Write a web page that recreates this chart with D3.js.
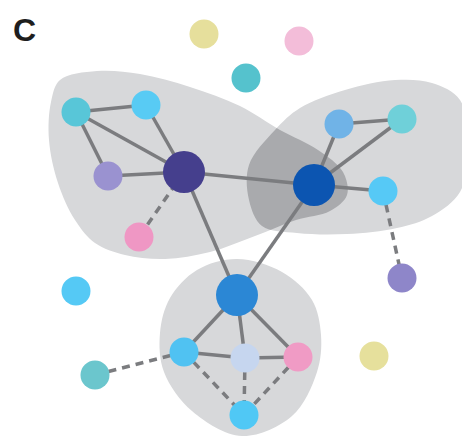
<!DOCTYPE html>
<html>
<head>
<meta charset="utf-8">
<script src="https://cdn.jsdelivr.net/npm/d3@7"></script>
<style>
  html, body { margin: 0; padding: 0; background: #ffffff; }
  svg { display: block; }
</style>
</head>
<body>
<div id="chart"></div>
<script>
// Network nodes: id, layout coordinates, and role (hub or leaf)
const nodeIds   = ["y1", "p1", "t1", "a1", "a2", "a3", "h1", "a4", "b1", "b2", "h2", "b3", "b4", "y2", "c1", "c2", "h3", "d1", "d2", "d3", "d4"];
const nodeX     = [204, 299, 246,  76, 146, 108, 184, 139, 339, 402, 314, 383, 402, 374,  76,  95, 237, 184, 245, 298, 244];
const nodeY     = [ 34,  41,  78, 112, 105, 176, 172, 237, 124, 119, 185, 191, 278, 356, 291, 375, 295, 352, 358, 357, 415];
const nodeHub   = ["h1", "h2", "h3"];
const nodeColor = {
  y1: "#e6df9c", p1: "#f3bdd9", t1: "#55c2cd",
  a1: "#58c6d8", a2: "#58cbf4", a3: "#9a92d0", h1: "#453f8d", a4: "#ef97c4",
  b1: "#70b3e7", b2: "#6fd0d9", h2: "#0c55b1", b3: "#56c9f6",
  b4: "#8e86c9", y2: "#e6e09c", c1: "#55c9f5", c2: "#6bc6cd",
  h3: "#2b87d5", d1: "#50c2f2", d2: "#c6d6ef", d3: "#f09bc5", d4: "#50c8f5"
};

// Interactions: confirmed (solid) and predicted (dashed)
const solidLinks = [
  ["a1", "a2"], ["a1", "a3"], ["a1", "h1"], ["a2", "h1"], ["a3", "h1"],
  ["h1", "h2"], ["h1", "h3"], ["h2", "h3"],
  ["h2", "b1"], ["h2", "b2"], ["b1", "b2"], ["h2", "b3"],
  ["h3", "d1"], ["h3", "d2"], ["h3", "d3"], ["d1", "d2"], ["d2", "d3"]
];
const dashedLinks = [
  ["h1", "a4"], ["b3", "b4"], ["d1", "c2"], ["d1", "d4"], ["d2", "d4"], ["d3", "d4"]
];

// Module outlines (layout coordinates)
const moduleLeft = [
  [60, 80], [97, 71], [140, 74], [190, 87], [240, 106], [280, 130], [318, 150],
  [343, 172], [347, 195], [330, 211], [296, 220], [255, 236], [210, 252],
  [165, 259], [125, 255], [95, 243], [75, 220], [58, 183], [49, 140], [51, 102]
];
const moduleRight = [
  [275, 130], [300, 108], [345, 90], [395, 80], [432, 83], [460, 100], [468, 150],
  [460, 192], [432, 216], [397, 228], [347, 234], [297, 233], [262, 226],
  [249, 200], [249, 165]
];
const moduleBottom = [
  [237, 259], [282, 272], [312, 300], [321, 335], [317, 372], [292, 416],
  [242, 436], [192, 411], [164, 372], [160, 333], [170, 298], [197, 270]
];

const labelText = "C";

const width = 462, height = 441;
const x = d3.scaleLinear().domain([0, 462]).range([0, width]);
const y = d3.scaleLinear().domain([0, 441]).range([0, height]);

const svg = d3.select("#chart").append("svg")
  .attr("width", width).attr("height", height);

const nodes = nodeIds.map((id, i) => ({ id, x: nodeX[i], y: nodeY[i], hub: nodeHub.includes(id) }));
const byId = new Map(nodes.map(n => [n.id, n]));

const outline = d3.line()
  .x(d => x(d[0])).y(d => y(d[1]))
  .curve(d3.curveCatmullRomClosed.alpha(0.5));

// Module shapes
const defs = svg.append("defs");
defs.append("clipPath").attr("id", "clip-left")
  .append("path").attr("d", outline(moduleLeft));

const hulls = svg.append("g");
hulls.append("path").attr("d", outline(moduleLeft)).attr("fill", "#d7d8da");
hulls.append("path").attr("d", outline(moduleRight)).attr("fill", "#d7d8da");
hulls.append("path").attr("d", outline(moduleBottom)).attr("fill", "#d7d8da");
// shared region of the two upper modules
hulls.append("path").attr("d", outline(moduleRight))
  .attr("clip-path", "url(#clip-left)").attr("fill", "#a9aaad");

// Links
const links = svg.append("g").attr("stroke", "#7b7c7f").attr("stroke-width", 3.5).attr("fill", "none");
links.selectAll("line.solid").data(solidLinks).join("line")
  .attr("class", "solid")
  .attr("x1", d => x(byId.get(d[0]).x)).attr("y1", d => y(byId.get(d[0]).y))
  .attr("x2", d => x(byId.get(d[1]).x)).attr("y2", d => y(byId.get(d[1]).y));
links.selectAll("line.dashed").data(dashedLinks).join("line")
  .attr("class", "dashed")
  .attr("stroke-dasharray", "8,6")
  .attr("x1", d => x(byId.get(d[0]).x)).attr("y1", d => y(byId.get(d[0]).y))
  .attr("x2", d => x(byId.get(d[1]).x)).attr("y2", d => y(byId.get(d[1]).y));

// Nodes
svg.append("g").selectAll("circle").data(nodes).join("circle")
  .attr("cx", d => x(d.x)).attr("cy", d => y(d.y))
  .attr("r", d => d.hub ? 21 : 14.5)
  .attr("fill", d => nodeColor[d.id]);

// Panel letter
svg.append("text")
  .attr("x", 13).attr("y", 41)
  .attr("font-family", "Liberation Sans, Arial, sans-serif")
  .attr("font-weight", "bold")
  .attr("font-size", 32)
  .attr("fill", "#1e1e1e")
  .text(labelText);
</script>
</body>
</html>
